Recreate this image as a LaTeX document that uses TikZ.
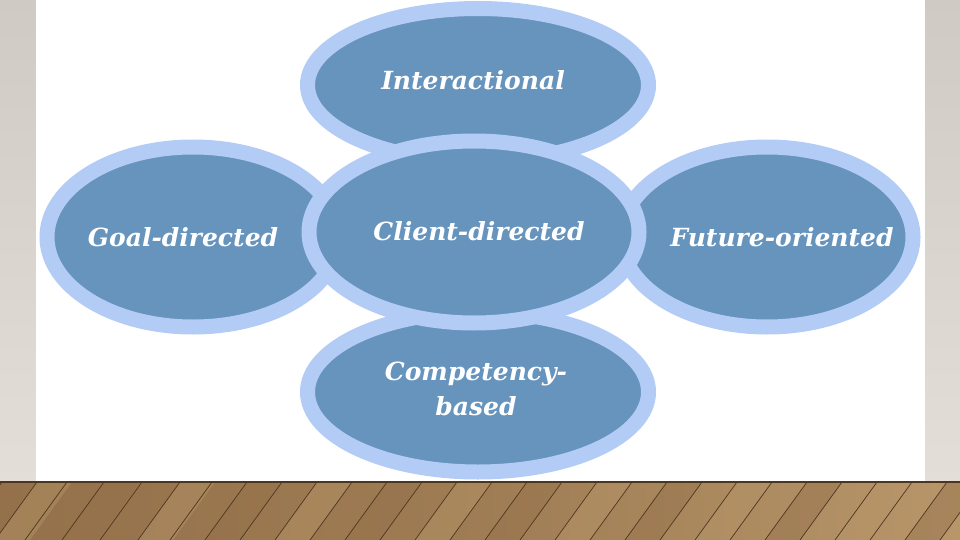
\documentclass[tikz,border=0pt]{standalone}
\usepackage{fontspec}
\setmainfont{DejaVu Serif}
\usetikzlibrary{shapes.geometric}
\definecolor{ring}{HTML}{B3CCF6}
\definecolor{blobfill}{HTML}{6694BD}
\definecolor{wallA}{HTML}{CFCAC3}
\definecolor{wallB}{HTML}{E3DED7}
\definecolor{wood}{HTML}{94714A}
\definecolor{woodlight}{HTML}{B8966A}
\definecolor{wooddark}{HTML}{4E3520}
\tikzset{
  bub/.style={ellipse, draw=ring, fill=blobfill, line width=15pt, inner sep=0pt},
  lbl/.style={text=white, font=\fontsize{25}{35}\selectfont\bfseries\itshape, align=center},
  plank/.style={wooddark, line width=0.7pt},
}
\begin{document}
\begin{tikzpicture}[x=1pt,y=-1pt]
\useasboundingbox (0,0) rectangle (960,540);
% wall
\shade[top color=wallA, bottom color=wallB] (0,0) rectangle (960,482);
\fill[white] (36,0) rectangle (925,481);
% floor
\shade[left color=wood, right color=woodlight, middle color=wood!70!woodlight] (0,481) rectangle (960,540);
\foreach \x/\c in {-5/woodlight,62/wood,138/woodlight,205/wood,275/woodlight,345/wood,415/woodlight,485/wood,555/woodlight,625/wood,695/woodlight,765/wood,835/woodlight,905/wood}
  \fill[\c, opacity=0.45] (\x,540) -- (\x+42,482) -- (\x+77,482) -- (\x+35,540) -- cycle;
\foreach \x in {-40,-5,25,62,100,138,170,205,240,275,310,345,380,415,450,485,520,555,590,625,660,695,730,765,800,835,870,905,940}
  \draw[plank] (\x,540) -- (\x+42,482);
\draw[wooddark, line width=2pt] (0,482) -- (960,482);
% bubbles
\node[bub, minimum width=341, minimum height=153] (inter) at (478,85) {};
\node[bub, minimum width=341, minimum height=160] (comp) at (478,392) {};
\node[bub, minimum width=292, minimum height=180] (goal) at (193,237) {};
\node[bub, minimum width=292, minimum height=180] (fut) at (767,237) {};
\node[bub, minimum width=330, minimum height=182] (client) at (474,232) {};
% labels
\node[lbl] (tinter) at (473,80) {Interactional};
\node[lbl] (tgoal) at (183,237) {Goal-directed};
\node[lbl] (tclient) at (479,231) {Client-directed};
\node[lbl] (tcomp) at (476,389) {Competency-\\based};
\node[lbl] (tfut) at (782,237) {Future-oriented};
\end{tikzpicture}
\end{document}
